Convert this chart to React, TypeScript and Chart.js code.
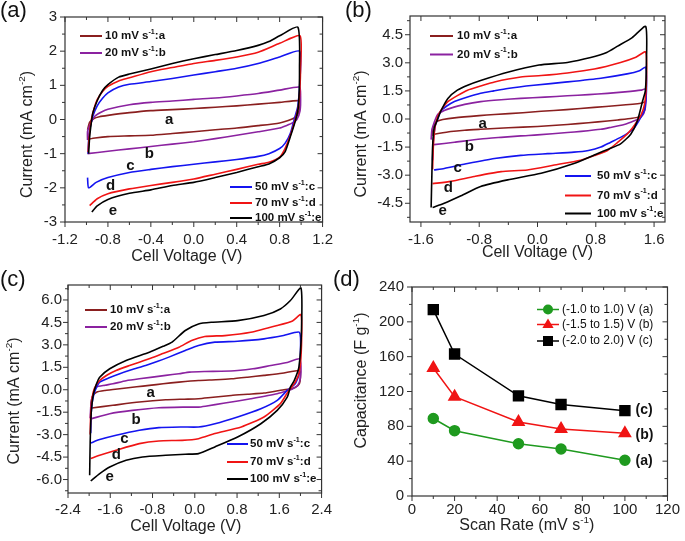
import React, { useEffect, useRef } from 'react';
import { Chart, registerables } from 'chart.js';

Chart.register(...registerables);

const FONT = '"Liberation Sans", Arial, Helvetica, sans-serif';
const INK = '#222222';
const BROWN = '#8a1f1f';
const PURPLE = '#8b22a0';
const BLUE = '#1414f0';
const RED = '#f01414';
const BLACK = '#000000';
const GREEN = '#1f9a1f';

type Pt = [number, number];
type Seg = { t: string; sup?: boolean };

// ---------------- Panel (a): -1.0 to 1.0 V ----------------
const A_X_TICKS = [-1.2, -0.8, -0.4, 0, 0.4, 0.8, 1.2];
const A_X_MINOR = [-1.0, -0.6, -0.2, 0.2, 0.6, 1.0];
const A_Y_TICKS = [-3, -2, -1, 0, 1, 2, 3];
const A_Y_MINOR = [-2.5, -1.5, -0.5, 0.5, 1.5, 2.5];

const A_10: Pt[] = [[-0.99,-0.3],[-0.97,-0.08],[-0.93,0.03],[-0.88,0.08],[-0.8,0.12],[-0.6,0.2],[-0.4,0.26],[-0.2,0.29],[0,0.32],[0.2,0.36],[0.4,0.4],[0.6,0.45],[0.8,0.5],[0.985,0.55],[0.99,0.4],[0.97,0.15],[0.94,0.05],[0.88,-0.03],[0.8,-0.1],[0.6,-0.18],[0.4,-0.25],[0.2,-0.3],[0,-0.36],[-0.2,-0.41],[-0.4,-0.46],[-0.6,-0.48],[-0.8,-0.5],[-0.92,-0.54],[-0.99,-0.58]];
const A_20: Pt[] = [[-0.99,-0.6],[-0.99,-0.35],[-0.97,-0.17],[-0.92,0.1],[-0.86,0.22],[-0.8,0.3],[-0.6,0.43],[-0.4,0.5],[-0.2,0.54],[0,0.59],[0.2,0.63],[0.4,0.69],[0.6,0.76],[0.8,0.86],[0.985,0.95],[0.995,0.7],[0.99,0.25],[0.96,0.0],[0.92,-0.1],[0.86,-0.18],[0.8,-0.25],[0.6,-0.36],[0.4,-0.46],[0.2,-0.56],[0,-0.65],[-0.2,-0.72],[-0.4,-0.79],[-0.6,-0.86],[-0.8,-0.93],[-0.99,-1.0]];
const A_50: Pt[] = [[-0.985,-1.0],[-0.98,-0.6],[-0.97,-0.3],[-0.94,0.1],[-0.9,0.4],[-0.85,0.62],[-0.8,0.78],[-0.7,0.95],[-0.6,1.03],[-0.4,1.11],[-0.2,1.2],[0,1.3],[0.2,1.4],[0.4,1.5],[0.6,1.64],[0.8,1.83],[0.985,2.0],[0.99,1.2],[0.97,0.4],[0.94,0.05],[0.9,-0.4],[0.85,-0.7],[0.8,-0.85],[0.7,-1.0],[0.6,-1.08],[0.4,-1.17],[0.2,-1.24],[0,-1.31],[-0.2,-1.38],[-0.4,-1.46],[-0.6,-1.55],[-0.8,-1.7],[-0.91,-1.84],[-0.98,-2.0],[-0.99,-1.7]];
const A_70: Pt[] = [[-0.985,-0.95],[-0.975,-0.5],[-0.96,-0.1],[-0.94,0.2],[-0.9,0.58],[-0.85,0.82],[-0.8,0.97],[-0.7,1.13],[-0.6,1.22],[-0.4,1.4],[-0.2,1.52],[0,1.64],[0.2,1.73],[0.4,1.83],[0.6,1.97],[0.8,2.23],[0.99,2.45],[0.995,1.5],[0.98,0.5],[0.95,0.05],[0.9,-0.46],[0.85,-0.85],[0.8,-1.1],[0.7,-1.25],[0.6,-1.31],[0.4,-1.46],[0.2,-1.6],[0,-1.74],[-0.2,-1.84],[-0.4,-1.93],[-0.6,-2.03],[-0.8,-2.17],[-0.9,-2.32],[-0.97,-2.52]];
const A_100: Pt[] = [[-0.98,-1.0],[-0.97,-0.5],[-0.955,-0.1],[-0.94,0.2],[-0.9,0.55],[-0.85,0.85],[-0.8,1.02],[-0.7,1.24],[-0.6,1.33],[-0.4,1.48],[-0.2,1.64],[0,1.78],[0.2,1.9],[0.4,2.02],[0.6,2.17],[0.7,2.28],[0.8,2.45],[0.97,2.7],[0.985,1.5],[0.975,0.4],[0.95,0.0],[0.9,-0.5],[0.85,-0.95],[0.8,-1.12],[0.7,-1.3],[0.6,-1.38],[0.4,-1.55],[0.2,-1.7],[0,-1.84],[-0.2,-1.93],[-0.4,-2.06],[-0.6,-2.16],[-0.8,-2.34],[-0.9,-2.53],[-0.95,-2.71]];

// ---------------- Panel (b): -1.5 to 1.5 V ----------------
const B_X_TICKS = [-1.6, -0.8, 0, 0.8, 1.6];
const B_X_MINOR = [-1.2, -0.4, 0.4, 1.2];
const B_Y_TICKS = [-4.5, -3, -1.5, 0, 1.5, 3, 4.5];
const B_Y_MINOR = [-5.25, -3.75, -2.25, -0.75, 0.75, 2.25, 3.75, 5.25];

const B_10: Pt[] = [[-1.45,-0.9],[-1.44,-0.5],[-1.4,-0.2],[-1.37,-0.11],[-1.3,-0.03],[-1.14,0.06],[-0.8,0.18],[-0.59,0.24],[-0.2,0.33],[0.05,0.41],[0.4,0.5],[0.78,0.62],[1.1,0.72],[1.42,0.84],[1.47,0.9],[1.48,0.6],[1.45,0.3],[1.38,0.1],[1.3,0.04],[1.1,-0.05],[0.96,-0.11],[0.7,-0.2],[0.41,-0.29],[0,-0.4],[-0.4,-0.47],[-0.78,-0.55],[-1.0,-0.6],[-1.19,-0.67],[-1.42,-0.81]];
const B_20: Pt[] = [[-1.46,-1.1],[-1.45,-0.6],[-1.42,-0.2],[-1.37,0.24],[-1.28,0.45],[-1.19,0.58],[-1.0,0.78],[-0.78,0.93],[-0.5,1.03],[-0.23,1.1],[0.1,1.17],[0.41,1.24],[0.7,1.3],[0.96,1.37],[1.2,1.45],[1.42,1.54],[1.48,1.6],[1.49,1.0],[1.46,0.3],[1.42,0.1],[1.37,-0.03],[1.28,-0.17],[1.19,-0.29],[1.0,-0.45],[0.87,-0.55],[0.6,-0.66],[0.41,-0.72],[0,-0.85],[-0.23,-0.9],[-0.5,-0.98],[-0.78,-1.07],[-1.14,-1.24],[-1.42,-1.37]];
const B_50: Pt[] = [[-1.44,-2.2],[-1.43,-1.2],[-1.4,-0.3],[-1.36,0.1],[-1.33,0.41],[-1.25,0.68],[-1.14,0.93],[-0.96,1.17],[-0.78,1.37],[-0.6,1.5],[-0.41,1.63],[-0.05,1.8],[0.41,1.98],[0.87,2.18],[1.23,2.41],[1.4,2.58],[1.485,2.76],[1.495,1.5],[1.47,0.5],[1.42,0.1],[1.33,-0.47],[1.24,-0.75],[1.14,-0.98],[1.0,-1.25],[0.87,-1.5],[0.7,-1.68],[0.5,-1.77],[0.14,-1.85],[-0.23,-1.94],[-0.59,-2.11],[-0.96,-2.38],[-1.28,-2.64],[-1.42,-2.72]];
const B_70: Pt[] = [[-1.44,-2.7],[-1.43,-1.5],[-1.41,-0.5],[-1.38,0.0],[-1.35,0.3],[-1.3,0.6],[-1.23,0.93],[-1.1,1.25],[-0.96,1.54],[-0.78,1.76],[-0.59,1.98],[-0.23,2.24],[0.05,2.32],[0.41,2.46],[0.78,2.67],[1.14,3.02],[1.35,3.3],[1.485,3.58],[1.495,2.0],[1.47,0.8],[1.42,0.2],[1.37,-0.11],[1.3,-0.5],[1.23,-0.81],[1.1,-1.25],[0.96,-1.68],[0.78,-1.95],[0.59,-2.2],[0.23,-2.46],[-0.14,-2.72],[-0.5,-2.81],[-0.87,-3.07],[-1.19,-3.33],[-1.44,-3.45]];
const B_100: Pt[] = [[-1.46,-4.73],[-1.45,-3.0],[-1.44,-1.5],[-1.42,-0.5],[-1.38,-0.1],[-1.33,0.4],[-1.23,1.1],[-1.1,1.54],[-0.95,1.82],[-0.78,2.06],[-0.41,2.5],[0.02,2.88],[0.41,3.02],[0.73,3.28],[0.95,3.55],[1.1,3.89],[1.3,4.35],[1.485,4.94],[1.495,3.0],[1.48,1.5],[1.44,0.93],[1.37,-0.11],[1.28,-0.81],[1.14,-1.33],[0.98,-1.6],[0.82,-1.85],[0.5,-2.38],[0.05,-2.9],[-0.41,-3.25],[-0.78,-3.6],[-1.05,-4.1],[-1.28,-4.5],[-1.44,-4.73]];

// ---------------- Panel (c): -2.0 to 2.0 V ----------------
const C_X_TICKS = [-2.4, -1.6, -0.8, 0, 0.8, 1.6, 2.4];
const C_X_MINOR = [-2.0, -1.2, -0.4, 0.4, 1.2, 2.0];
const C_Y_TICKS = [-6, -4.5, -3, -1.5, 0, 1.5, 3, 4.5, 6];
const C_Y_MINOR = [-6.75, -5.25, -3.75, -2.25, -0.75, 0.75, 2.25, 3.75, 5.25, 6.75];

const C_10: Pt[] = [[-1.97,-1.2],[-1.96,-0.8],[-1.93,-0.4],[-1.86,-0.16],[-1.7,-0.05],[-1.42,0.07],[-1.1,0.2],[-0.86,0.29],[-0.6,0.4],[-0.3,0.51],[0.07,0.62],[0.4,0.67],[0.69,0.73],[1.0,0.84],[1.31,0.96],[1.65,1.1],[1.98,1.29],[2.0,1.0],[1.98,0.4],[1.9,0.15],[1.81,0.07],[1.6,-0.05],[1.31,-0.22],[1.0,-0.3],[0.69,-0.38],[0.3,-0.52],[0.07,-0.6],[-0.2,-0.63],[-0.55,-0.67],[-1.05,-0.82],[-1.55,-1.04],[-1.95,-1.22]];
const C_20: Pt[] = [[-1.98,-1.9],[-1.97,-1.2],[-1.95,-0.6],[-1.9,-0.1],[-1.86,0.18],[-1.7,0.3],[-1.55,0.4],[-1.3,0.6],[-1.05,0.73],[-0.55,0.96],[-0.3,1.07],[-0.1,1.18],[0.19,1.22],[0.5,1.24],[0.81,1.29],[1.1,1.4],[1.44,1.62],[1.75,1.82],[1.98,2.07],[2.01,1.6],[2.0,0.8],[1.95,0.3],[1.85,0.05],[1.81,0.0],[1.56,-0.27],[1.06,-0.6],[0.57,-0.89],[0.2,-1.1],[0.07,-1.16],[-0.18,-1.16],[-0.68,-1.2],[-1.18,-1.38],[-1.61,-1.6],[-1.95,-1.93]];
const C_50: Pt[] = [[-1.97,-2.9],[-1.96,-1.5],[-1.93,-0.6],[-1.88,0.0],[-1.8,0.51],[-1.62,0.8],[-1.42,1.07],[-1.2,1.33],[-0.93,1.62],[-0.7,1.9],[-0.49,2.18],[-0.18,2.62],[0.07,2.96],[0.38,3.18],[0.81,3.24],[1.31,3.4],[1.68,3.62],[1.98,3.84],[2.0,2.5],[1.97,1.0],[1.9,0.4],[1.75,-0.04],[1.56,-0.71],[1.25,-1.27],[0.81,-1.82],[0.38,-2.27],[0.07,-2.49],[-0.24,-2.49],[-0.68,-2.53],[-1.05,-2.71],[-1.49,-3.04],[-1.8,-3.33],[-1.97,-3.56]];
const C_70: Pt[] = [[-1.98,-3.0],[-1.97,-1.6],[-1.94,-0.5],[-1.9,0.1],[-1.8,0.62],[-1.65,1.0],[-1.49,1.29],[-1.25,1.6],[-1.05,1.84],[-0.8,2.15],[-0.62,2.4],[-0.3,2.84],[-0.06,3.29],[0.19,3.56],[0.57,3.62],[1.06,3.84],[1.56,4.29],[1.85,4.6],[2.01,5.02],[2.02,3.0],[1.98,1.2],[1.9,0.5],[1.78,-0.04],[1.62,-0.93],[1.31,-1.82],[0.88,-2.49],[0.38,-2.93],[0.07,-3.27],[-0.24,-3.38],[-0.68,-3.42],[-1.05,-3.6],[-1.49,-4.04],[-1.8,-4.38],[-1.97,-4.6]];
const C_100: Pt[] = [[-1.99,-5.71],[-1.98,-3.5],[-1.96,-1.5],[-1.92,-0.3],[-1.86,0.4],[-1.8,0.84],[-1.61,1.4],[-1.3,1.96],[-0.86,2.51],[-0.6,2.9],[-0.43,3.18],[-0.18,3.96],[0.07,4.4],[0.32,4.51],[0.81,4.62],[1.31,4.96],[1.62,5.4],[1.81,5.96],[2.01,6.8],[2.02,4.0],[1.97,1.5],[1.88,0.6],[1.81,0.18],[1.75,-0.49],[1.56,-1.38],[1.25,-2.27],[0.81,-3.16],[0.38,-3.82],[0.07,-4.27],[-0.18,-4.31],[-0.55,-4.38],[-0.99,-4.49],[-1.3,-4.71],[-1.61,-5.16],[-1.8,-5.6],[-1.97,-6.09]];

// ---------------- Panel (d): capacitance vs scan rate ----------------
const D_X_TICKS = [0, 20, 40, 60, 80, 100, 120];
const D_X_MINOR = [10, 30, 50, 70, 90, 110];
const D_Y_TICKS = [0, 40, 80, 120, 160, 200, 240];
const D_Y_MINOR = [20, 60, 100, 140, 180, 220];
const SCAN_RATES = [10, 20, 50, 70, 100];
const CAP_1V = [89, 75, 60, 54, 41];
const CAP_15V = [147, 114, 85, 77, 72];
const CAP_2V = [214, 163, 115, 105, 98];

// ---------------- helpers ----------------
interface LegendEntry { color: string; segs: Seg[]; x1: number; x2: number; y: number; tx: number; marker?: string }
interface TextMark { t: string; x: number; y: number }
interface PanelCfg {
  box: { left: number; top: number; width: number; height: number };
  plot: { L: number; T: number; R: number; B: number };
  xRange: [number, number]; yRange: [number, number];
  xTicks: number[]; yTicks: number[]; xMinor: number[]; yMinor: number[];
  xDec: number; yDec: number; xPad: number; yPad: number;
  xTitle: Seg[]; yTitle: Seg[];
  xTitleOff: [number, number]; yTitleOff: [number, number];
  legend: LegendEntry[]; legendWeight: string; legendSize: number;
  marks: TextMark[]; markAlign: 'left' | 'center'; markSize: number;
  label: { t: string; x: number; y: number };
  datasets: any[];
}

const rateSegs = (r: string, l: string): Seg[] => [{ t: `${r} mV s` }, { t: '-1', sup: true }, { t: `:${l}` }];

function drawRich(ctx: CanvasRenderingContext2D, segs: Seg[], x: number, y: number, size: number, weight: string, align: 'left' | 'center') {
  const supSize = size * 0.62;
  const fontOf = (s: Seg) => `${weight} ${s.sup ? supSize : size}px ${FONT}`;
  let w = 0;
  for (const s of segs) { ctx.font = fontOf(s); w += ctx.measureText(s.t).width; }
  let cx = align === 'center' ? x - w / 2 : x;
  ctx.textAlign = 'left';
  ctx.textBaseline = 'middle';
  for (const s of segs) {
    ctx.font = fontOf(s);
    ctx.fillText(s.t, cx, s.sup ? y - size * 0.38 : y);
    cx += ctx.measureText(s.t).width;
  }
}

function drawMarker(ctx: CanvasRenderingContext2D, style: string, x: number, y: number) {
  ctx.beginPath();
  if (style === 'circle') ctx.arc(x, y, 5, 0, Math.PI * 2);
  else if (style === 'triangle') { ctx.moveTo(x, y - 6); ctx.lineTo(x + 5.6, y + 3.5); ctx.lineTo(x - 5.6, y + 3.5); ctx.closePath(); }
  else ctx.rect(x - 5, y - 5, 10, 10);
  ctx.fill();
}

function makeDeco(p: PanelCfg) {
  return {
    id: 'deco',
    afterDraw(chart: any) {
      const ctx: CanvasRenderingContext2D = chart.ctx;
      const ca = chart.chartArea;
      const xs = chart.scales.x;
      const ys = chart.scales.y;
      ctx.save();
      ctx.strokeStyle = '#333333';
      ctx.lineWidth = 1.2;
      ctx.strokeRect(ca.left, ca.top, ca.right - ca.left, ca.bottom - ca.top);
      ctx.lineWidth = 1;
      ctx.beginPath();
      const tickX = (v: number, len: number) => {
        const px = xs.getPixelForValue(v);
        ctx.moveTo(px, ca.bottom); ctx.lineTo(px, ca.bottom + len);
        ctx.moveTo(px, ca.top); ctx.lineTo(px, ca.top + len);
      };
      const tickY = (v: number, len: number) => {
        const py = ys.getPixelForValue(v);
        ctx.moveTo(ca.left, py); ctx.lineTo(ca.left - len, py);
        ctx.moveTo(ca.right, py); ctx.lineTo(ca.right - len, py);
      };
      p.xTicks.forEach((v) => tickX(v, 5));
      p.xMinor.forEach((v) => tickX(v, 3));
      p.yTicks.forEach((v) => tickY(v, 5));
      p.yMinor.forEach((v) => { if (v > p.yRange[0] && v < p.yRange[1]) tickY(v, 3); });
      ctx.stroke();

      // legend
      ctx.fillStyle = '#111111';
      for (const e of p.legend) {
        const y = ca.top + e.y;
        ctx.strokeStyle = e.color;
        ctx.lineWidth = e.marker ? 1.5 : 2;
        ctx.beginPath();
        ctx.moveTo(ca.left + e.x1, y);
        ctx.lineTo(ca.left + e.x2, y);
        ctx.stroke();
        if (e.marker) {
          ctx.fillStyle = e.color;
          drawMarker(ctx, e.marker, ca.left + (e.x1 + e.x2) / 2, y);
        }
        ctx.fillStyle = '#111111';
        drawRich(ctx, e.segs, ca.left + e.tx, y, p.legendSize, p.legendWeight, 'left');
      }

      // curve marks
      for (const m of p.marks) {
        drawRich(ctx, [{ t: m.t }], xs.getPixelForValue(m.x), ys.getPixelForValue(m.y), p.markSize, 'bold', p.markAlign);
      }

      // axis titles
      ctx.fillStyle = INK;
      const cxm = (ca.left + ca.right) / 2;
      const cym = (ca.top + ca.bottom) / 2;
      drawRich(ctx, p.xTitle, cxm + p.xTitleOff[0], ca.bottom + p.xTitleOff[1], 16, 'normal', 'center');
      ctx.save();
      ctx.translate(ca.left - p.yTitleOff[0], cym + p.yTitleOff[1]);
      ctx.rotate(-Math.PI / 2);
      drawRich(ctx, p.yTitle, 0, 0, 16, 'normal', 'center');
      ctx.restore();

      // panel label
      ctx.fillStyle = '#111111';
      ctx.font = `normal 22px ${FONT}`;
      ctx.textAlign = 'left';
      ctx.textBaseline = 'middle';
      ctx.fillText(p.label.t, p.label.x, p.label.y);
      ctx.restore();
    },
  };
}

function buildChart(canvas: HTMLCanvasElement, p: PanelCfg) {
  const yAxisW = p.plot.L - p.box.left;
  const xAxisH = p.box.top + p.box.height - p.plot.B;
  const padTop = p.plot.T - p.box.top;
  const padRight = p.box.left + p.box.width - p.plot.R;
  const tickFont = { family: FONT, size: 15 };
  return new Chart(canvas, {
    type: 'scatter',
    data: { datasets: p.datasets },
    options: {
      responsive: false,
      animation: false,
      devicePixelRatio: 1,
      events: [],
      layout: { padding: { left: 0, top: padTop, right: padRight, bottom: 0 } },
      plugins: { legend: { display: false }, tooltip: { enabled: false } },
      scales: {
        x: {
          type: 'linear', position: 'bottom', min: p.xRange[0], max: p.xRange[1],
          grid: { display: false, drawTicks: false, tickLength: 0 },
          border: { display: false },
          ticks: {
            font: tickFont, color: INK, padding: p.xPad, autoSkip: false, maxRotation: 0,
            callback: (v: any) => Number(v).toFixed(p.xDec),
          },
          afterBuildTicks: (ax: any) => { ax.ticks = p.xTicks.map((v) => ({ value: v })); },
          afterFit: (ax: any) => { ax.height = xAxisH; },
        },
        y: {
          type: 'linear', position: 'left', min: p.yRange[0], max: p.yRange[1],
          grid: { display: false, drawTicks: false, tickLength: 0 },
          border: { display: false },
          ticks: {
            font: tickFont, color: INK, padding: p.yPad, autoSkip: false,
            callback: (v: any) => Number(v).toFixed(p.yDec),
          },
          afterBuildTicks: (ax: any) => { ax.ticks = p.yTicks.map((v) => ({ value: v })); },
          afterFit: (ax: any) => { ax.width = yAxisW; },
        },
      },
    } as any,
    plugins: [makeDeco(p)],
  });
}

const cvSet = (pts: Pt[], color: string) => ({
  data: pts.map(([x, y]) => ({ x, y })),
  borderColor: color, backgroundColor: color, borderWidth: 1.6,
  showLine: true, pointRadius: 0, tension: 0.2, fill: false,
});

const capSet = (vals: number[], color: string, style: string, r: number) => ({
  data: SCAN_RATES.map((x, i) => ({ x, y: vals[i] })),
  borderColor: color, backgroundColor: color, borderWidth: 1.5,
  showLine: true, pointStyle: style, pointRadius: r, tension: 0, fill: false,
});

const CV_X_TITLE: Seg[] = [{ t: 'Cell Voltage (V)' }];
const CV_Y_TITLE: Seg[] = [{ t: 'Current (mA cm' }, { t: '-2', sup: true }, { t: ')' }];
const LEG = 11.5;

const PANEL_A: PanelCfg = {
  box: { left: 0, top: 0, width: 342, height: 270 },
  plot: { L: 65, T: 12, R: 325, B: 222 },
  xRange: [-1.2, 1.2], yRange: [-3, 3],
  xTicks: A_X_TICKS, yTicks: A_Y_TICKS, xMinor: A_X_MINOR, yMinor: A_Y_MINOR,
  xDec: 1, yDec: 0, xPad: 9, yPad: 8,
  xTitle: CV_X_TITLE, yTitle: CV_Y_TITLE, xTitleOff: [-7, 35], yTitleOff: [37, 15],
  legend: [
    { color: BROWN, segs: rateSegs('10', 'a'), x1: 15, x2: 37, y: 19, tx: 40 },
    { color: PURPLE, segs: rateSegs('20', 'b'), x1: 15, x2: 37, y: 36, tx: 40 },
    { color: BLUE, segs: rateSegs('50', 'c'), x1: 165, x2: 187, y: 170, tx: 190 },
    { color: RED, segs: rateSegs('70', 'd'), x1: 165, x2: 187, y: 186, tx: 190 },
    { color: BLACK, segs: rateSegs('100', 'e'), x1: 165, x2: 187, y: 201, tx: 190 },
  ],
  legendWeight: 'bold', legendSize: LEG,
  marks: [
    { t: 'a', x: -0.23, y: 0.0 }, { t: 'b', x: -0.415, y: -1.01 }, { t: 'c', x: -0.59, y: -1.36 },
    { t: 'd', x: -0.775, y: -1.95 }, { t: 'e', x: -0.754, y: -2.67 },
  ],
  markAlign: 'center', markSize: 15,
  label: { t: '(a)', x: 0, y: 11 },
  datasets: [cvSet(A_100, BLACK), cvSet(A_70, RED), cvSet(A_50, BLUE), cvSet(A_20, PURPLE), cvSet(A_10, BROWN)],
};

const PANEL_B: PanelCfg = {
  box: { left: 340, top: 0, width: 345, height: 270 },
  plot: { L: 410, T: 13, R: 665, B: 222 },
  xRange: [-1.75, 1.75], yRange: [-5.5, 5.5],
  xTicks: B_X_TICKS, yTicks: B_Y_TICKS, xMinor: B_X_MINOR, yMinor: B_Y_MINOR,
  xDec: 1, yDec: 1, xPad: 9, yPad: 7,
  xTitle: CV_X_TITLE, yTitle: CV_Y_TITLE, xTitleOff: [0, 31], yTitleOff: [48, 15],
  legend: [
    { color: BROWN, segs: rateSegs('10', 'a'), x1: 20, x2: 43, y: 20, tx: 47 },
    { color: PURPLE, segs: rateSegs('20', 'b'), x1: 20, x2: 43, y: 38.5, tx: 47 },
    { color: BLUE, segs: rateSegs('50', 'c'), x1: 155, x2: 181, y: 160, tx: 187 },
    { color: RED, segs: rateSegs('70', 'd'), x1: 155, x2: 181, y: 179.5, tx: 187 },
    { color: BLACK, segs: rateSegs('100', 'e'), x1: 155, x2: 181, y: 197.5, tx: 187 },
  ],
  legendWeight: 'bold', legendSize: LEG,
  marks: [
    { t: 'a', x: -0.754, y: -0.25 }, { t: 'b', x: -0.937, y: -1.5 }, { t: 'c', x: -1.097, y: -2.6 },
    { t: 'd', x: -1.225, y: -3.68 }, { t: 'e', x: -1.303, y: -4.9 },
  ],
  markAlign: 'center', markSize: 15,
  label: { t: '(b)', x: 5, y: 11 },
  datasets: [cvSet(B_100, BLACK), cvSet(B_70, RED), cvSet(B_50, BLUE), cvSet(B_20, PURPLE), cvSet(B_10, BROWN)],
};

const PANEL_C: PanelCfg = {
  box: { left: 0, top: 270, width: 340, height: 271 },
  plot: { L: 68, T: 284, R: 325, B: 493 },
  xRange: [-2.4, 2.4], yRange: [-6.9, 7.0],
  xTicks: C_X_TICKS, yTicks: C_Y_TICKS, xMinor: C_X_MINOR, yMinor: C_Y_MINOR,
  xDec: 1, yDec: 1, xPad: 8, yPad: 6,
  xTitle: CV_X_TITLE, yTitle: CV_Y_TITLE, xTitleOff: [-9, 34], yTitleOff: [53, 12],
  legend: [
    { color: BROWN, segs: rateSegs('10', 'a'), x1: 17, x2: 39, y: 25, tx: 42 },
    { color: PURPLE, segs: rateSegs('20', 'b'), x1: 17, x2: 39, y: 42, tx: 42 },
    { color: BLUE, segs: rateSegs('50', 'c'), x1: 159, x2: 180, y: 159, tx: 182 },
    { color: RED, segs: rateSegs('70', 'd'), x1: 159, x2: 180, y: 177, tx: 182 },
    { color: BLACK, segs: rateSegs('100', 'e'), x1: 159, x2: 180, y: 194, tx: 182 },
  ],
  legendWeight: 'bold', legendSize: LEG,
  marks: [
    { t: 'a', x: -0.833, y: -0.22 }, { t: 'b', x: -1.113, y: -2.0 }, { t: 'c', x: -1.33, y: -3.27 },
    { t: 'd', x: -1.486, y: -4.38 }, { t: 'e', x: -1.61, y: -5.82 },
  ],
  markAlign: 'center', markSize: 15,
  label: { t: '(c)', x: 0, y: 10 },
  datasets: [cvSet(C_100, BLACK), cvSet(C_70, RED), cvSet(C_50, BLUE), cvSet(C_20, PURPLE), cvSet(C_10, BROWN)],
};

const PANEL_D: PanelCfg = {
  box: { left: 330, top: 270, width: 355, height: 271 },
  plot: { L: 412, T: 284, R: 670, B: 496 },
  xRange: [0, 120], yRange: [0, 240],
  xTicks: D_X_TICKS, yTicks: D_Y_TICKS, xMinor: D_X_MINOR, yMinor: D_Y_MINOR,
  xDec: 0, yDec: 0, xPad: 5, yPad: 8,
  xTitle: [{ t: 'Scan Rate (mV s' }, { t: '-1', sup: true }, { t: ')' }],
  yTitle: [{ t: 'Capacitance (F g' }, { t: '-1', sup: true }, { t: ')' }],
  xTitleOff: [-13, 30], yTitleOff: [50, -11],
  legend: [
    { color: GREEN, segs: [{ t: '(-1.0 to 1.0) V (a)' }], x1: 125, x2: 147, y: 22.5, tx: 150, marker: 'circle' },
    { color: RED, segs: [{ t: '(-1.5 to 1.5) V (b)' }], x1: 125, x2: 147, y: 37.5, tx: 150, marker: 'triangle' },
    { color: BLACK, segs: [{ t: '(-2.0 to 2.0) V (c)' }], x1: 125, x2: 147, y: 54, tx: 150, marker: 'rect' },
  ],
  legendWeight: 'normal', legendSize: 12,
  marks: [
    { t: '(c)', x: 105, y: 98.7 }, { t: '(b)', x: 105, y: 70.2 }, { t: '(a)', x: 105, y: 40.6 },
  ],
  markAlign: 'left', markSize: 14,
  label: { t: '(d)', x: 3, y: 10 },
  datasets: [capSet(CAP_2V, BLACK, 'rect', 7), capSet(CAP_15V, RED, 'triangle', 6.5), capSet(CAP_1V, GREEN, 'circle', 5)],
};

function Panel({ cfg }: { cfg: PanelCfg }) {
  const ref = useRef<HTMLCanvasElement>(null);
  useEffect(() => {
    const chart = buildChart(ref.current as HTMLCanvasElement, cfg);
    return () => chart.destroy();
  }, [cfg]);
  const b = cfg.box;
  return (
    <canvas
      ref={ref}
      width={b.width}
      height={b.height}
      style={{ position: 'absolute', left: b.left, top: b.top, width: b.width, height: b.height }}
    />
  );
}

export default function App() {
  return (
    <div style={{ position: 'absolute', left: 0, top: 0, width: 685, height: 541, background: '#ffffff', overflow: 'hidden' }}>
      <Panel cfg={PANEL_A} />
      <Panel cfg={PANEL_B} />
      <Panel cfg={PANEL_C} />
      <Panel cfg={PANEL_D} />
    </div>
  );
}
